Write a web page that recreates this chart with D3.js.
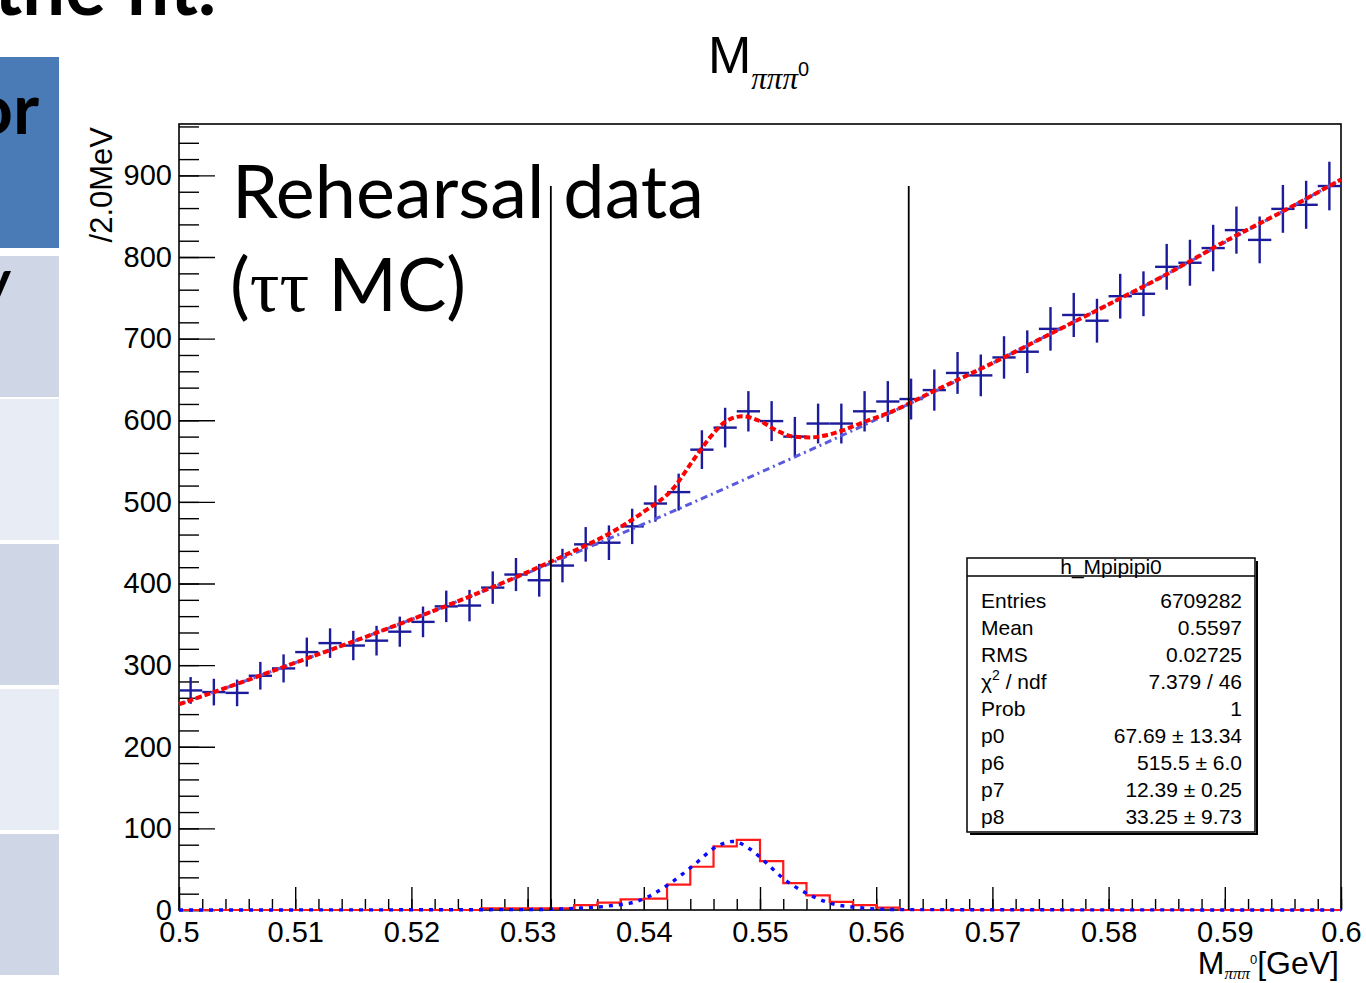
<!DOCTYPE html>
<html lang="en">
<head>
  <meta charset="UTF-8">
  <title>M pi pi pi0 fit</title>
  <style>
    body { margin: 0; overflow: hidden; background: #fff; }
    svg { display: block; }
    text { font-family: "Liberation Sans", Arial, sans-serif; }
    .slide { font-family: Lato, "Open Sans", sans-serif; }
  </style>
  <script src="https://d3js.org/d3.v7.min.js"></script>
</head>
<body>
  <svg width="1366" height="983"></svg>
  <script>
    // histogram binning: 50 bins of 2 MeV from 0.5 to 0.6 GeV
    const binLow = 0.5;
    const binWidth = 0.002;

    // data counts per bin (crosses)
    const counts = [
      269, 267, 266, 287, 296, 316, 327, 324, 330, 341,
      353, 372, 373, 395, 411, 404, 422, 448, 450, 470,
      498, 512, 564, 591, 611, 599, 580, 596, 596, 611,
      623, 626, 637, 658, 655, 677, 684, 712, 729, 722,
      752, 755, 788, 793, 811, 833, 821, 859, 864, 887
    ];

    // red signal MC histogram at the bottom
    const signalHist = [
      0, 0, 0, 0, 0, 0, 0, 0, 0, 0,
      0, 0, 0, 2, 2, 2, 2, 6, 9, 13,
      14, 31, 53, 78, 86, 60, 33, 18, 10, 6,
      3, 0, 0, 0, 0, 0, 0, 0, 0, 0,
      0, 0, 0, 0, 0, 0, 0, 0, 0, 0
    ];

    // total fit (red dashed)
    const fitX = [0.500, 0.505, 0.510, 0.515, 0.520, 0.525, 0.530, 0.534, 0.537, 0.540,
                  0.5425, 0.5442, 0.5457, 0.5471, 0.5485, 0.5500, 0.5515, 0.5529, 0.5543, 0.5558,
                  0.5572, 0.5586, 0.5614, 0.565, 0.570, 0.575, 0.580, 0.585, 0.590, 0.595, 0.600];
    const fitY = [252, 277, 303, 329, 356, 384, 414, 440, 461, 488,
                  516, 550, 579, 599, 605, 599, 587, 580, 579, 582,
                  588, 596, 611, 636, 670, 706, 742, 779, 819, 856, 895];

    // background component (blue dash-dot)
    const bkgX = [0.500, 0.505, 0.510, 0.515, 0.520, 0.525, 0.530, 0.535, 0.540, 0.545, 0.550,
                  0.555, 0.560, 0.565, 0.570, 0.575, 0.580, 0.585, 0.590, 0.595, 0.600];
    const bkgY = [252, 277, 303, 329, 356, 384, 413, 443, 473, 504, 536,
                  568, 601, 635, 670, 706, 742, 779, 818, 856, 895];

    // signal component (blue dotted, bottom)
    const sigX = [0.500, 0.530, 0.534, 0.537, 0.5397, 0.5421, 0.5443, 0.5463, 0.5477, 0.5491,
                  0.5506, 0.5518, 0.5538, 0.5559, 0.5584, 0.562, 0.600];
    const sigY = [0, 0.5, 2, 5, 12, 31, 55, 78, 84, 75,
                  57, 41, 22, 9, 3, 0.5, 0];

    const cutLines = [0.532, 0.5628];
    const cutTop = 887;

    const xTicks = [0.5, 0.51, 0.52, 0.53, 0.54, 0.55, 0.56, 0.57, 0.58, 0.59, 0.6];
    const xTickLabels = ["0.5", "0.51", "0.52", "0.53", "0.54", "0.55", "0.56", "0.57", "0.58", "0.59", "0.6"];
    const yTicks = [0, 100, 200, 300, 400, 500, 600, 700, 800, 900];
    const yTickLabels = ["0", "100", "200", "300", "400", "500", "600", "700", "800", "900"];

    const statLabels = ["Entries", "Mean", "RMS", "χ2 / ndf", "Prob", "p0", "p6", "p7", "p8"];
    const statValues = ["6709282", "0.5597", "0.02725", "7.379 / 46", "1",
                        "67.69 ± 13.34", "515.5 ± 6.0", "12.39 ± 0.25", "33.25 ± 9.73"];

    const svg = d3.select("svg");

    // --- slide remnants on the left ---
    svg.append("text").attr("class", "slide")
      .attr("x", -6).attr("y", 15)
      .attr("font-size", 76).attr("font-weight", "bold")
      .text("the fit.");

    svg.append("rect").attr("x", 0).attr("y", 57).attr("width", 59).attr("height", 191)
      .attr("fill", "#4a7bb7");
    svg.append("text").attr("class", "slide")
      .attr("x", 39).attr("y", 134).attr("text-anchor", "end")
      .attr("font-size", 70).attr("font-weight", "bold")
      .text("or");

    const rowFills = ["#cfd7e7", "#e8ecf5", "#cfd7e7", "#e8ecf5", "#cfd7e7"];
    const rowTops = [256, 399, 544, 689, 834];
    rowTops.forEach((t, i) => {
      svg.append("rect").attr("x", 0).attr("y", t).attr("width", 59)
        .attr("height", 141).attr("fill", rowFills[i]);
    });
    svg.append("text").attr("class", "slide")
      .attr("x", 11).attr("y", 300).attr("text-anchor", "end")
      .attr("font-size", 56).attr("font-weight", "bold")
      .text("y");

    // --- scales ---
    const x = d3.scaleLinear().domain([0.5, 0.6]).range([179, 1341]);
    const y = d3.scaleLinear().domain([0, 963]).range([910, 124]);

    // frame
    svg.append("rect")
      .attr("x", x(0.5)).attr("y", y(963))
      .attr("width", x(0.6) - x(0.5)).attr("height", y(0) - y(963))
      .attr("fill", "none").attr("stroke", "#000").attr("stroke-width", 1.6);

    // axes
    const xMinor = svg.append("g").attr("transform", `translate(0,${y(0)})`)
      .call(d3.axisBottom(x).tickValues(x.ticks(50)).tickSize(-11).tickFormat(""));
    const xMajor = svg.append("g").attr("transform", `translate(0,${y(0)})`)
      .call(d3.axisBottom(x).tickValues(xTicks).tickSize(-23).tickPadding(11)
        .tickFormat((d, i) => xTickLabels[i]));
    const yMinor = svg.append("g").attr("transform", `translate(${x(0.5)},0)`)
      .call(d3.axisLeft(y).tickValues(y.ticks(50)).tickSize(-20).tickFormat(""));
    const yMajor = svg.append("g").attr("transform", `translate(${x(0.5)},0)`)
      .call(d3.axisLeft(y).tickValues(yTicks).tickSize(-36).tickPadding(7)
        .tickFormat((d, i) => yTickLabels[i]));

    [xMinor, xMajor, yMinor, yMajor].forEach(g => {
      g.select(".domain").remove();
      g.selectAll("line").attr("stroke", "#000").attr("stroke-width", 1.4);
      g.selectAll("text").attr("font-size", 29).attr("fill", "#000")
        .attr("font-family", "Liberation Sans, Arial, sans-serif");
    });

    // data crosses
    const cross = svg.append("g").attr("stroke", "#1b1b9c").attr("stroke-width", 2.4);
    counts.forEach((c, i) => {
      const lo = binLow + i * binWidth;
      const cx = lo + binWidth / 2;
      const err = Math.sqrt(c);
      cross.append("line")
        .attr("x1", x(lo)).attr("x2", x(lo + binWidth))
        .attr("y1", y(c)).attr("y2", y(c));
      cross.append("line")
        .attr("x1", x(cx)).attr("x2", x(cx))
        .attr("y1", y(c - err)).attr("y2", y(c + err));
    });

    const line = d3.line().x(d => x(d[0])).y(d => y(d[1])).curve(d3.curveMonotoneX);

    // background component
    svg.append("path")
      .attr("d", line(bkgX.map((v, i) => [v, bkgY[i]])))
      .attr("fill", "none").attr("stroke", "#5a5ade").attr("stroke-width", 3)
      .attr("stroke-dasharray", "7,4,2,4");

    // total fit
    svg.append("path")
      .attr("d", line(fitX.map((v, i) => [v, fitY[i]])))
      .attr("fill", "none").attr("stroke", "#ff0000").attr("stroke-width", 4)
      .attr("stroke-dasharray", "6,3");

    // red signal histogram (step outline)
    const step = [[binLow, 0]];
    signalHist.forEach((v, i) => {
      const lo = binLow + i * binWidth;
      step.push([lo, v], [lo + binWidth, v]);
    });
    step.push([0.6, 0]);
    svg.append("path")
      .attr("d", d3.line().x(d => x(d[0])).y(d => y(d[1]))(step))
      .attr("fill", "none").attr("stroke", "#ff1a1a").attr("stroke-width", 2.2);

    // signal component
    svg.append("path")
      .attr("d", line(sigX.map((v, i) => [v, sigY[i]])))
      .attr("fill", "none").attr("stroke", "#0a0aff").attr("stroke-width", 3.4)
      .attr("stroke-dasharray", "4,6");

    // cut lines
    svg.append("g").selectAll("line").data(cutLines).join("line")
      .attr("x1", d => x(d)).attr("x2", d => x(d))
      .attr("y1", y(cutTop)).attr("y2", y(0))
      .attr("stroke", "#000").attr("stroke-width", 1.8);

    // title
    const title = svg.append("text").attr("x", 708).attr("y", 73);
    title.append("tspan").attr("font-size", 52).text("M");
    title.append("tspan").attr("font-size", 31).attr("dy", 16)
      .attr("font-family", "Liberation Serif, serif").attr("font-style", "italic").text("πππ");
    title.append("tspan").attr("font-size", 20).attr("dy", -13).text("0");

    // x axis title
    const xt = svg.append("text").attr("x", 1339).attr("y", 974).attr("text-anchor", "end");
    xt.append("tspan").attr("font-size", 32).text("M");
    xt.append("tspan").attr("font-size", 17).attr("dy", 5)
      .attr("font-family", "Liberation Serif, serif").attr("font-style", "italic").text("πππ");
    xt.append("tspan").attr("font-size", 13).attr("dy", -15).text("0");
    xt.append("tspan").attr("font-size", 32).attr("dy", 10).text("[GeV]");

    // y axis title
    svg.append("text")
      .attr("transform", "translate(112,127) rotate(-90)")
      .attr("text-anchor", "end").attr("font-size", 31)
      .text("/2.0MeV");

    // overlay note
    svg.append("text").attr("class", "slide")
      .attr("x", 232).attr("y", 218).attr("font-size", 74)
      .attr("textLength", 472).attr("lengthAdjust", "spacingAndGlyphs")
      .text("Rehearsal data");
    const note2 = svg.append("text").attr("class", "slide")
      .attr("x", 230).attr("y", 311).attr("font-size", 74);
    note2.append("tspan").text("(");
    note2.append("tspan").attr("font-family", "Liberation Serif, serif").text("ττ");
    note2.append("tspan").text(" MC)");

    // stats box
    const box = { x0: 967, y0: 558, x1: 1255, y1: 832 };
    svg.append("line").attr("x1", box.x1 + 2).attr("x2", box.x1 + 2)
      .attr("y1", box.y0 + 3).attr("y2", box.y1 + 2)
      .attr("stroke", "#000").attr("stroke-width", 2);
    svg.append("line").attr("x1", box.x0 + 3).attr("x2", box.x1 + 3)
      .attr("y1", box.y1 + 2).attr("y2", box.y1 + 2)
      .attr("stroke", "#000").attr("stroke-width", 2);
    svg.append("rect").attr("x", box.x0).attr("y", box.y0)
      .attr("width", box.x1 - box.x0).attr("height", box.y1 - box.y0)
      .attr("fill", "#fff").attr("stroke", "#000").attr("stroke-width", 1.5);
    svg.append("line").attr("x1", box.x0).attr("x2", box.x1)
      .attr("y1", 576).attr("y2", 576).attr("stroke", "#000").attr("stroke-width", 1.3);
    svg.append("text").attr("x", (box.x0 + box.x1) / 2).attr("y", 574)
      .attr("text-anchor", "middle").attr("font-size", 21).text("h_Mpipipi0");

    statLabels.forEach((lab, i) => {
      const by = 608 + i * 27;
      const t = svg.append("text").attr("x", 981).attr("y", by).attr("font-size", 21);
      if (lab.startsWith("χ2")) {
        t.append("tspan").text("χ");
        t.append("tspan").attr("font-size", 14).attr("dy", -9).text("2");
        t.append("tspan").attr("dy", 9).text(" / ndf");
      } else {
        t.text(lab);
      }
      svg.append("text").attr("x", 1242).attr("y", by).attr("text-anchor", "end")
        .attr("font-size", 21).text(statValues[i]);
    });
  </script>
</body>
</html>
